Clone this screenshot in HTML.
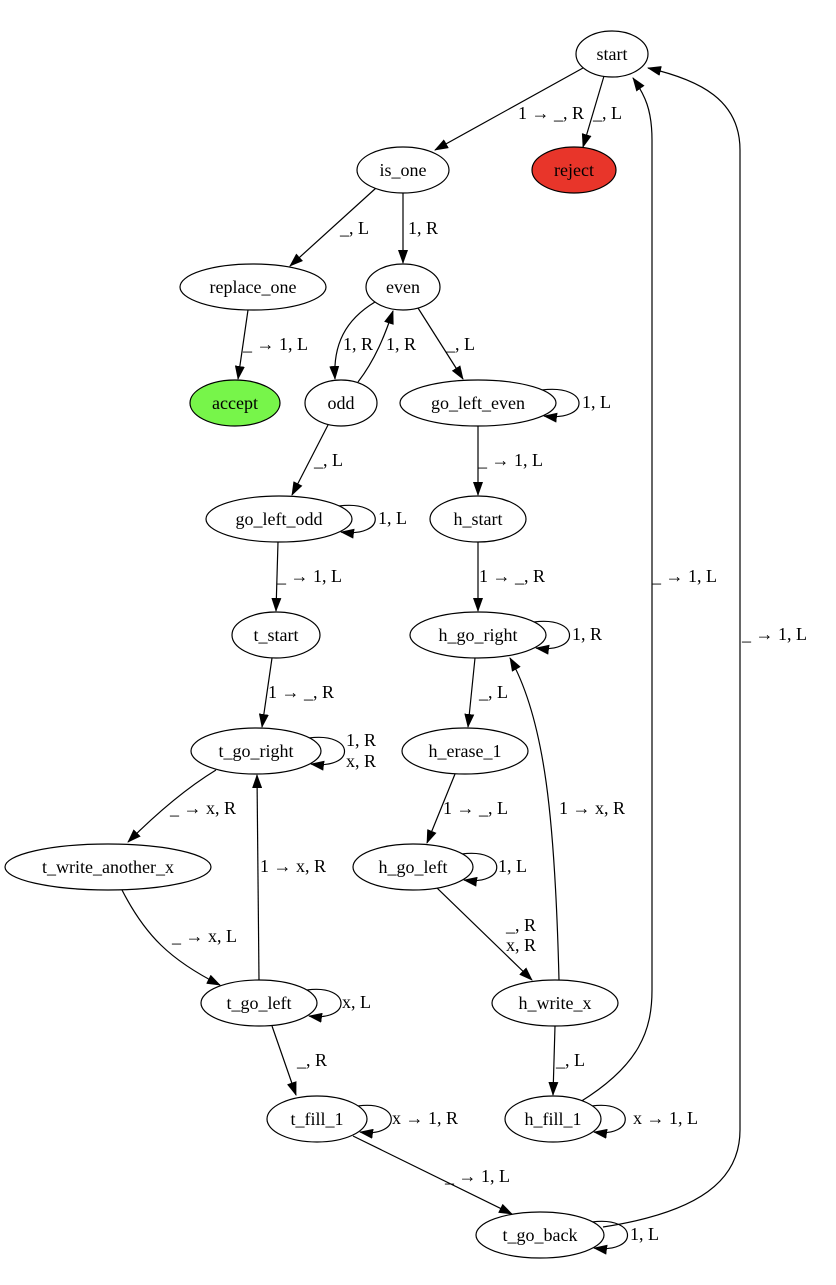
<!DOCTYPE html>
<html><head><meta charset="utf-8"><style>
html,body{margin:0;padding:0;background:#fff;}
svg text{font-family:"Liberation Serif",serif;font-size:18px;fill:#000;}
</style></head><body>
<svg width="836" height="1280" viewBox="0 0 836 1280" xmlns="http://www.w3.org/2000/svg">
<defs>
<marker id="a" viewBox="0 0 14 10" refX="13" refY="5" markerWidth="14" markerHeight="10" markerUnits="userSpaceOnUse" orient="auto">
<path d="M0,0 L14,5 L0,10 z" fill="#000"/>
</marker>
</defs>
<g fill="none" stroke="#000" stroke-width="1.2" marker-end="url(#a)">
<path d="M583,68 L435,150"/>
<path d="M604,76 L583,147"/>
<path d="M376,188 L290,266"/>
<path d="M403,193 L403,263"/>
<path d="M248,310 L238,379"/>
<path d="M375,302 C345,320 333,345 335,379"/>
<path d="M358,382 C375,360 385,335 393,311"/>
<path d="M418,308 L463,379"/>
<path d="M478,426 L478,495"/>
<path d="M328,425 L292,495"/>
<path d="M278,542 L276,611"/>
<path d="M478,542 L478,611"/>
<path d="M272,658 L262,727"/>
<path d="M475,658 L468,727"/>
<path d="M216,770 C180,792 150,820 128,842"/>
<path d="M455,774 L427,843"/>
<path d="M559,980 C555,820 545,720 510,658"/>
<path d="M122,890 C145,935 170,960 220,985"/>
<path d="M259,980 L257,775"/>
<path d="M437,888 L532,980"/>
<path d="M272,1026 L296,1095"/>
<path d="M555,1026 L553,1095"/>
<path d="M580,1102 C640,1065 652,1030 652,990 L652,140 C652,110 645,95 633,78"/>
<path d="M353,1136 L512,1214"/>
<path d="M603,1227 C700,1212 740,1180 740,1130 L740,150 C740,100 700,80 648,68"/>
<!-- loops -->
<path d="M542,390 C591,384 591,422 544,416"/>
<path d="M339,506 C387,500 387,538 341,532"/>
<path d="M534,622 C581,616 581,654 536,648"/>
<path d="M309,738 C356,732 356,770 311,764"/>
<path d="M462,854 C508,848 508,886 464,880"/>
<path d="M307,990 C352,984 352,1022 309,1016"/>
<path d="M358,1106 C402,1100 402,1138 360,1132"/>
<path d="M592,1106 C636,1100 636,1138 594,1132"/>
<path d="M592,1222 C639,1216 639,1254 594,1248"/>
</g>
<g stroke="#000" stroke-width="1.2" fill="#fff">
<ellipse cx="612" cy="54" rx="36" ry="23"/>
<ellipse cx="403" cy="170" rx="46" ry="23"/>
<ellipse cx="574" cy="170" rx="42" ry="23" fill="#e8352a"/>
<ellipse cx="253" cy="287" rx="73" ry="23"/>
<ellipse cx="403" cy="287" rx="37" ry="23"/>
<ellipse cx="235" cy="403" rx="45" ry="23" fill="#77f54a"/>
<ellipse cx="341" cy="403" rx="36" ry="23"/>
<ellipse cx="478" cy="403" rx="78" ry="23"/>
<ellipse cx="279" cy="519" rx="73" ry="23"/>
<ellipse cx="478" cy="519" rx="48" ry="23"/>
<ellipse cx="276" cy="635" rx="44" ry="23"/>
<ellipse cx="478" cy="635" rx="68" ry="23"/>
<ellipse cx="256" cy="751" rx="65" ry="23"/>
<ellipse cx="465" cy="751" rx="63" ry="23"/>
<ellipse cx="108" cy="867" rx="103" ry="23"/>
<ellipse cx="413" cy="867" rx="60" ry="23"/>
<ellipse cx="259" cy="1003" rx="58" ry="23"/>
<ellipse cx="555" cy="1003" rx="63" ry="23"/>
<ellipse cx="317" cy="1119" rx="50" ry="23"/>
<ellipse cx="553" cy="1119" rx="48" ry="23"/>
<ellipse cx="540" cy="1235" rx="64" ry="23"/>
</g>
<g text-anchor="middle">
<text x="612" y="60">start</text>
<text x="403" y="176">is_one</text>
<text x="574" y="176">reject</text>
<text x="253" y="293">replace_one</text>
<text x="403" y="293">even</text>
<text x="235" y="409">accept</text>
<text x="341" y="409">odd</text>
<text x="478" y="409">go_left_even</text>
<text x="279" y="525">go_left_odd</text>
<text x="478" y="525">h_start</text>
<text x="276" y="641">t_start</text>
<text x="478" y="641">h_go_right</text>
<text x="256" y="757">t_go_right</text>
<text x="465" y="757">h_erase_1</text>
<text x="108" y="873">t_write_another_x</text>
<text x="413" y="873">h_go_left</text>
<text x="259" y="1009">t_go_left</text>
<text x="555" y="1009">h_write_x</text>
<text x="317" y="1125">t_fill_1</text>
<text x="553" y="1125">h_fill_1</text>
<text x="540" y="1241">t_go_back</text>
</g>
<g>
<text x="518" y="119">1 → _, R</text>
<text x="593" y="119">_, L</text>
<text x="340" y="234">_, L</text>
<text x="408" y="234">1, R</text>
<text x="243" y="350">_ → 1, L</text>
<text x="343" y="350">1, R</text>
<text x="386" y="350">1, R</text>
<text x="446" y="350">_, L</text>
<text x="582" y="408">1, L</text>
<text x="478" y="466">_ → 1, L</text>
<text x="314" y="466">_, L</text>
<text x="378" y="524">1, L</text>
<text x="277" y="582">_ → 1, L</text>
<text x="479" y="582">1 → _, R</text>
<text x="572" y="640">1, R</text>
<text x="268" y="698">1 → _, R</text>
<text x="479" y="698">_, L</text>
<text x="346" y="746">1, R</text>
<text x="346" y="767">x, R</text>
<text x="170" y="814">_ → x, R</text>
<text x="443" y="814">1 → _, L</text>
<text x="559" y="814">1 → x, R</text>
<text x="260" y="872">1 → x, R</text>
<text x="498" y="872">1, L</text>
<text x="172" y="942">_ → x, L</text>
<text x="506" y="931">_, R</text>
<text x="506" y="951">x, R</text>
<text x="342" y="1008">x, L</text>
<text x="297" y="1066">_, R</text>
<text x="556" y="1066">_, L</text>
<text x="392" y="1124">x → 1, R</text>
<text x="633" y="1124">x → 1, L</text>
<text x="652" y="582">_ → 1, L</text>
<text x="445" y="1182">_ → 1, L</text>
<text x="630" y="1240">1, L</text>
<text x="742" y="640">_ → 1, L</text>
</g>
</svg>
</body></html>
